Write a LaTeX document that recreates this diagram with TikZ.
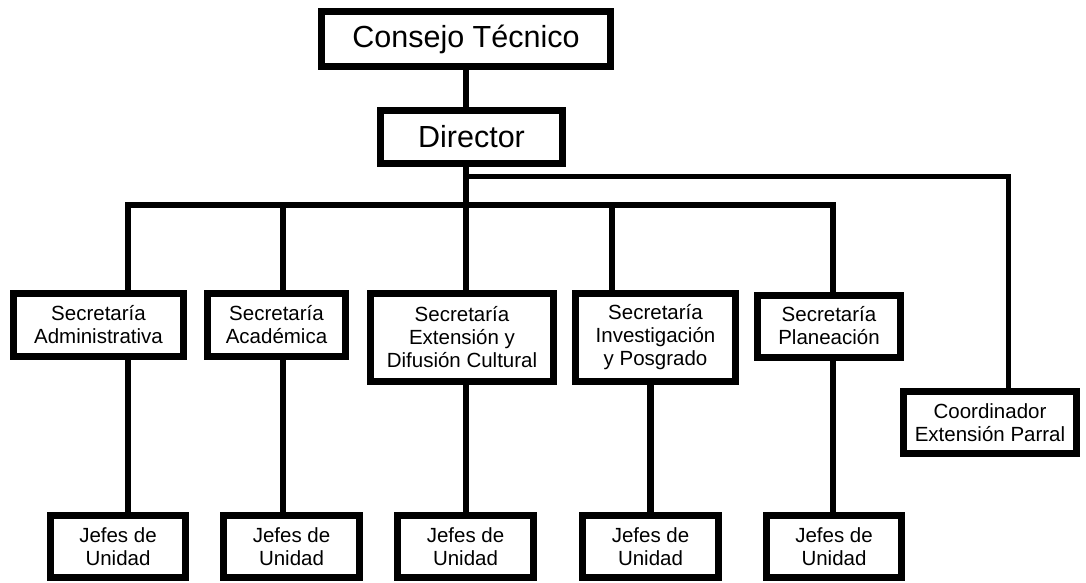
\documentclass[tikz,border=0pt]{standalone}
\usepackage{fontspec}
\setmainfont{Liberation Sans}
\tikzset{
  unitbox/.style={draw, line width=7pt, fill=white, inner sep=0pt, align=center,
    font=\fontsize{20.5}{23}\selectfont},
  headbox/.style={unitbox, font=\fontsize{30.5}{34}\selectfont},
  link/.style={line width=6.5pt, line join=miter},
  thinlink/.style={link, line width=5pt}
}
\begin{document}
\begin{tikzpicture}[x=1pt, y=-1pt]
  \useasboundingbox (0,0) rectangle (1086,582);

  % upper levels
  \node[headbox, minimum width=289pt, minimum height=55pt] (consejo) at (466, 39) {Consejo Técnico};
  \node[headbox, minimum width=182pt, minimum height=53pt] (director) at (471.5, 137) {Director};

  % secretarias
  \node[unitbox, minimum width=170pt, minimum height=63pt] (sadm) at (98.5, 325) {Secretaría\\Administrativa};
  \node[unitbox, minimum width=138pt, minimum height=63pt] (saca) at (276.5, 325) {Secretaría\\Académica};
  \node[unitbox, minimum width=183pt, minimum height=88pt] (sext) at (462, 337.5) {Secretaría\\Extensión y\\Difusión Cultural};
  \node[unitbox, minimum width=160pt, minimum height=88pt] (sinv) at (655.5, 337.5) {Secretaría\\Investigación\\y Posgrado};
  \node[unitbox, minimum width=143pt, minimum height=62pt] (splan) at (829, 326) {Secretaría\\Planeación};
  \node[unitbox, minimum width=173pt, minimum height=62pt] (scoord) at (990, 422.5) {Coordinador\\Extensión Parral};

  % jefes de unidad
  \node[unitbox, minimum width=135pt, minimum height=62pt] (jadm) at (118, 546.5) {Jefes de\\Unidad};
  \node[unitbox, minimum width=136pt, minimum height=62pt] (jaca) at (291.5, 546.5) {Jefes de\\Unidad};
  \node[unitbox, minimum width=136pt, minimum height=62pt] (jext) at (465.5, 546.5) {Jefes de\\Unidad};
  \node[unitbox, minimum width=136pt, minimum height=62pt] (jinv) at (650.5, 546.5) {Jefes de\\Unidad};
  \node[unitbox, minimum width=135pt, minimum height=62pt] (jplan) at (834, 546.5) {Jefes de\\Unidad};

  % taps on the lines
  \coordinate (tadm) at (128, 205);
  \coordinate (taca) at (283, 205);
  \coordinate (text) at (466, 205);
  \coordinate (tinv) at (612, 205);
  \coordinate (tplan) at (833, 205);
  \coordinate (tcoord) at (466, 176);
  \coordinate (kcoord) at (1008, 176);

  \draw[link] (consejo.south) -- (consejo.south |- director.north);
  \draw[link] (consejo.south |- director.south) -- (text);
  \draw[thinlink] (tcoord) -- (kcoord) -- (kcoord |- scoord.north);

  \draw[link] (tadm |- sadm.north) -- (tadm) -- (tplan) -- (tplan |- splan.north);
  \draw[link] (taca) -- (taca |- saca.north);
  \draw[link] (text) -- (text |- sext.north);
  \draw[link] (tinv) -- (tinv |- sinv.north);

  \draw[link] (tadm |- sadm.south) -- (tadm |- jadm.north);
  \draw[link] (taca |- saca.south) -- (taca |- jaca.north);
  \draw[link] (text |- sext.south) -- (text |- jext.north);
  \draw[link] (jinv.north |- sinv.south) -- (jinv.north);
  \draw[link] (tplan |- splan.south) -- (tplan |- jplan.north);
\end{tikzpicture}
\end{document}
